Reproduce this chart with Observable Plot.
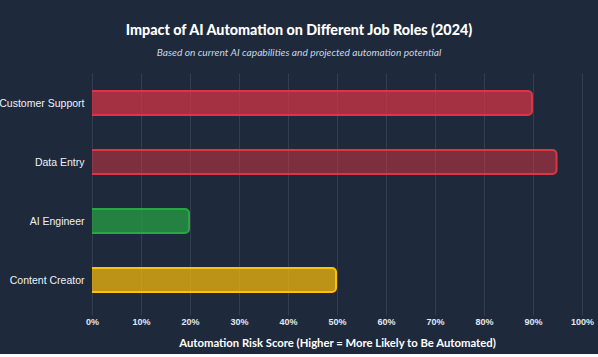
<!DOCTYPE html>
<html><head><meta charset="utf-8">
<script src="https://cdn.jsdelivr.net/npm/d3@7"></script>
<script src="https://cdn.jsdelivr.net/npm/@observablehq/plot@0.6"></script>
<style>
html,body{margin:0;padding:0;background:#ffffff;}
body{width:598px;height:357px;overflow:hidden;}
#card{background:#1e293b;width:598px;height:354px;overflow:hidden;}
#header{position:relative;height:62px;width:598px;}
#title{position:absolute;left:0;width:598px;top:20px;text-align:center;font-family:Lato,sans-serif;font-weight:900;font-size:14.3px;color:#ffffff;line-height:20px;}
#subtitle{position:absolute;left:0;width:598px;top:45px;text-align:center;font-family:Lato,sans-serif;font-style:italic;font-size:10.2px;color:#cbd5e1;line-height:14px;}
#chart svg{display:block;}
</style></head><body>
<div id="card">
<div id="header">
  <div id="title">Impact of AI Automation on Different Job Roles (2024)</div>
  <div id="subtitle">Based on current AI capabilities and projected automation potential</div>
</div>
<div id="chart"></div>
</div>
<script>
const roles = ["Customer Support", "Data Entry", "AI Engineer", "Content Creator"];
const riskScores = [90, 95, 20, 50];
const fillColors = ["rgba(220,53,69,0.7)", "rgba(220,53,69,0.5)", "rgba(40,167,69,0.7)", "rgba(255,193,7,0.7)"];
const strokeColors = ["#dc3545", "#dc3545", "#28a745", "#ffc107"];
const xTicks = [0, 10, 20, 30, 40, 50, 60, 70, 80, 90, 100];
const axisTitle = "Automation Risk Score (Higher = More Likely to Be Automated)";

const data = roles.map((r, i) => ({role: r, score: riskScores[i], fill: fillColors[i], stroke: strokeColors[i]}));

const chart = Plot.plot({
  width: 598,
  height: 292,
  marginLeft: 92,
  marginRight: 16,
  marginTop: 11.5,
  marginBottom: 44.5,
  style: {background: "transparent", color: "#e2e8f0", fontFamily: "'Liberation Sans', Arial, sans-serif"},
  x: {domain: [0, 100], ticks: xTicks},
  y: {domain: roles, paddingInner: 0.56, paddingOuter: 0.28},
  marks: [
    Plot.gridX(xTicks, {stroke: "#ffffff", strokeOpacity: 0.1, strokeWidth: 1}),
    Plot.barX(data, {
      x: "score", y: "role",
      fill: d => d.fill, stroke: d => d.stroke, strokeWidth: 2,
      rx: 4, insetLeft: -8, insetTop: 1, insetBottom: 1, insetRight: 1,
      clip: true
    }),
    Plot.axisX(xTicks, {
      tickFormat: d => d + "%", tickSize: 6, tickPadding: 3, label: null,
      stroke: "#ffffff", strokeOpacity: 0.1,
      fontSize: 9, fontWeight: 600, fill: "#e2e8f0"
    }),
    Plot.axisY({
      tickSize: 0, tickPadding: 8, label: null,
      fontSize: 10.5, fontWeight: 500, fill: "#eef2f7"
    }),
    Plot.text([axisTitle], {
      frameAnchor: "bottom", dy: 37, text: d => d,
      fontFamily: "Lato, sans-serif", fontWeight: 700, fontSize: 11.3, fill: "#ffffff"
    })
  ]
});
document.getElementById("chart").appendChild(chart);
</script>
</body></html>
